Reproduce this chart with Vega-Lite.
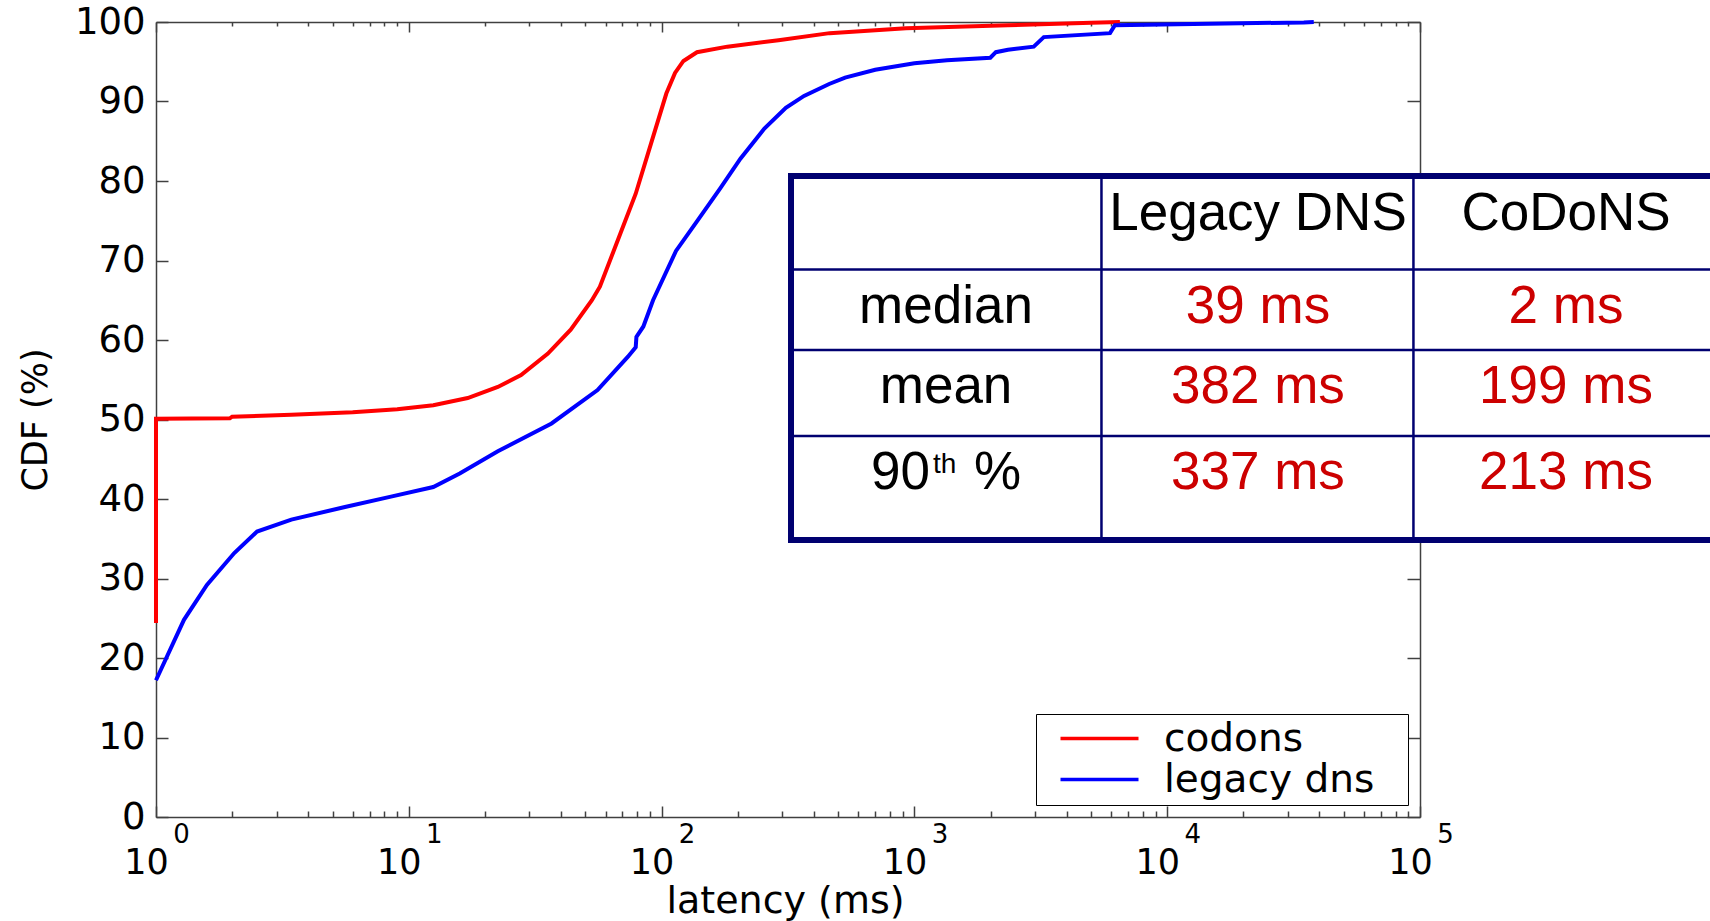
{
  "$schema": "https://vega.github.io/schema/vega-lite/v6.json",
  "width": 1264,
  "height": 795,
  "autosize": {"type": "none"},
  "padding": {"left": 156, "top": 22, "right": 290, "bottom": 104},
  "background": "white",
  "config": {
    "view": {"stroke": null},
    "axis": {"grid": false, "domainColor": "#404040", "tickColor": "#404040", "domainWidth": 1.5, "tickWidth": 1.5, "labelFont": "DejaVu Sans", "titleFont": "DejaVu Sans", "labelColor": "black", "titleColor": "black", "titleFontWeight": "normal", "labelFlush": false, "labelOverlap": false}
  },
  "datasets": {
    "curves": [
      {"series": "codons", "latency": 1, "cdf": 24.4},
      {"series": "codons", "latency": 1, "cdf": 50.1},
      {"series": "codons", "latency": 1.96, "cdf": 50.15},
      {"series": "codons", "latency": 2.0, "cdf": 50.35},
      {"series": "codons", "latency": 3.43, "cdf": 50.6},
      {"series": "codons", "latency": 6.0, "cdf": 50.9},
      {"series": "codons", "latency": 9.0, "cdf": 51.3},
      {"series": "codons", "latency": 12.5, "cdf": 51.8},
      {"series": "codons", "latency": 17.1, "cdf": 52.7},
      {"series": "codons", "latency": 22.5, "cdf": 54.1},
      {"series": "codons", "latency": 27.8, "cdf": 55.6},
      {"series": "codons", "latency": 35.5, "cdf": 58.3},
      {"series": "codons", "latency": 43.7, "cdf": 61.3},
      {"series": "codons", "latency": 53, "cdf": 65.0},
      {"series": "codons", "latency": 57, "cdf": 66.7},
      {"series": "codons", "latency": 68.7, "cdf": 73.4},
      {"series": "codons", "latency": 79, "cdf": 78.4},
      {"series": "codons", "latency": 90.8, "cdf": 84.7},
      {"series": "codons", "latency": 104.4, "cdf": 91.0},
      {"series": "codons", "latency": 113, "cdf": 93.6},
      {"series": "codons", "latency": 122, "cdf": 95.1},
      {"series": "codons", "latency": 138, "cdf": 96.2},
      {"series": "codons", "latency": 182, "cdf": 96.9},
      {"series": "codons", "latency": 290, "cdf": 97.7},
      {"series": "codons", "latency": 462, "cdf": 98.6},
      {"series": "codons", "latency": 927, "cdf": 99.2},
      {"series": "codons", "latency": 2344, "cdf": 99.6},
      {"series": "codons", "latency": 5000, "cdf": 99.9},
      {"series": "codons", "latency": 6500, "cdf": 100},
      {"series": "legacy dns", "latency": 1, "cdf": 17.2},
      {"series": "legacy dns", "latency": 1.29, "cdf": 24.8},
      {"series": "legacy dns", "latency": 1.59, "cdf": 29.2},
      {"series": "legacy dns", "latency": 2.04, "cdf": 33.2},
      {"series": "legacy dns", "latency": 2.51, "cdf": 35.9},
      {"series": "legacy dns", "latency": 3.43, "cdf": 37.4},
      {"series": "legacy dns", "latency": 5.59, "cdf": 39.0},
      {"series": "legacy dns", "latency": 8.5, "cdf": 40.3},
      {"series": "legacy dns", "latency": 12.5, "cdf": 41.5},
      {"series": "legacy dns", "latency": 15.9, "cdf": 43.2},
      {"series": "legacy dns", "latency": 22.5, "cdf": 46.0},
      {"series": "legacy dns", "latency": 36.7, "cdf": 49.5},
      {"series": "legacy dns", "latency": 55.8, "cdf": 53.7},
      {"series": "legacy dns", "latency": 73.6, "cdf": 57.9},
      {"series": "legacy dns", "latency": 79, "cdf": 59.1},
      {"series": "legacy dns", "latency": 79.5, "cdf": 60.4},
      {"series": "legacy dns", "latency": 84.7, "cdf": 61.7},
      {"series": "legacy dns", "latency": 92.5, "cdf": 65.0},
      {"series": "legacy dns", "latency": 114, "cdf": 71.2},
      {"series": "legacy dns", "latency": 140, "cdf": 75.2},
      {"series": "legacy dns", "latency": 170, "cdf": 79.0},
      {"series": "legacy dns", "latency": 205, "cdf": 82.8},
      {"series": "legacy dns", "latency": 255, "cdf": 86.6},
      {"series": "legacy dns", "latency": 310, "cdf": 89.2},
      {"series": "legacy dns", "latency": 366, "cdf": 90.7},
      {"series": "legacy dns", "latency": 460, "cdf": 92.2},
      {"series": "legacy dns", "latency": 532, "cdf": 93.0},
      {"series": "legacy dns", "latency": 700, "cdf": 94.0},
      {"series": "legacy dns", "latency": 1000, "cdf": 94.8},
      {"series": "legacy dns", "latency": 1345, "cdf": 95.2},
      {"series": "legacy dns", "latency": 1997, "cdf": 95.5},
      {"series": "legacy dns", "latency": 2100, "cdf": 96.2},
      {"series": "legacy dns", "latency": 2345, "cdf": 96.5},
      {"series": "legacy dns", "latency": 2965, "cdf": 96.9},
      {"series": "legacy dns", "latency": 3250, "cdf": 98.1},
      {"series": "legacy dns", "latency": 5940, "cdf": 98.6},
      {"series": "legacy dns", "latency": 6210, "cdf": 99.6},
      {"series": "legacy dns", "latency": 34700, "cdf": 99.95},
      {"series": "legacy dns", "latency": 38000, "cdf": 100}
    ],
    "table_box": [
      {"x1": 325, "x2": 2500000, "y1": 34.84, "y2": 80.63}
    ],
    "table_rules": [
      {"x1": 325, "x2": 2500000, "y1": 68.87, "y2": 68.87, "weight": "inner"},
      {"x1": 325, "x2": 2500000, "y1": 58.74, "y2": 58.74, "weight": "inner"},
      {"x1": 325, "x2": 2500000, "y1": 47.92, "y2": 47.92, "weight": "inner"},
      {"x1": 5495, "x2": 5495, "y1": 34.84, "y2": 80.63, "weight": "inner"},
      {"x1": 94200, "x2": 94200, "y1": 34.84, "y2": 80.63, "weight": "inner"},
      {"x1": 325, "x2": 2500000, "y1": 80.63, "y2": 80.63, "weight": "outer"},
      {"x1": 325, "x2": 2500000, "y1": 34.84, "y2": 34.84, "weight": "outer"},
      {"x1": 325, "x2": 325, "y1": 34.84, "y2": 80.63, "weight": "outer"}
    ],
    "table_text": [
      {"lat": 22860, "pct": 73.84, "text": "Legacy DNS", "role": "header"},
      {"lat": 378000, "pct": 73.84, "text": "CoDoNS", "role": "header"},
      {"lat": 1334, "pct": 62.14, "text": "median", "role": "label"},
      {"lat": 1334, "pct": 52.08, "text": "mean", "role": "label"},
      {"lat": 1334, "pct": 41.26, "text": "90\u00a0\u00a0\u00a0%", "role": "label"},
      {"lat": 22860, "pct": 62.14, "text": "39 ms", "role": "value"},
      {"lat": 22860, "pct": 52.08, "text": "382 ms", "role": "value"},
      {"lat": 22860, "pct": 41.26, "text": "337 ms", "role": "value"},
      {"lat": 378000, "pct": 62.14, "text": "2 ms", "role": "value"},
      {"lat": 378000, "pct": 52.08, "text": "199 ms", "role": "value"},
      {"lat": 378000, "pct": 41.26, "text": "213 ms", "role": "value"},
      {"lat": 1185, "pct": 43.27, "text": "th", "role": "sup"}
    ]
  },
  "layer": [
    {
      "data": {"name": "curves"},
      "mark": {"type": "line", "strokeWidth": 4, "interpolate": "linear"},
      "encoding": {
        "x": {"field": "latency", "type": "quantitative",
          "scale": {"type": "log", "domain": [1, 100000], "nice": false},
          "axis": {"orient": "bottom", "values": [1, 10, 100, 1000, 10000, 100000], "labelExpr": "'10'", "ticks": false, "domain": true, "labelFontSize": 35, "labelPadding": 28, "labelOffset": -10, "title": "latency (ms)", "titleFontSize": 38, "titleX": 629, "titleY": 95, "titleBaseline": "alphabetic"}},
        "y": {"field": "cdf", "type": "quantitative",
          "scale": {"domain": [0, 100], "nice": false, "zero": false},
          "axis": {"orient": "left", "values": [0, 10, 20, 30, 40, 50, 60, 70, 80, 90, 100], "ticks": false, "domain": true, "labelFontSize": 37, "labelPadding": 11, "title": "CDF (%)", "titleFontSize": 35, "titleX": -110, "titleY": 397.5, "titleAngle": -90, "titleBaseline": "alphabetic"}},
        "color": {"field": "series", "type": "nominal",
          "scale": {"domain": ["codons", "legacy dns"], "range": ["#ff0000", "#0000ff"]},
          "legend": {"title": null, "orient": "bottom-right", "offset": 12, "strokeColor": "black", "fillColor": "white", "padding": 5, "symbolType": "M0,0H7.8", "symbolSize": 400, "symbolStrokeWidth": 3.5, "labelFont": "DejaVu Sans", "labelFontSize": 39, "labelColor": "black", "labelOffset": 84, "labelExpr": "datum.label + '\u2800'", "rowPadding": 1, "cornerRadius": 0, "labelLimit": 400}},
        "order": {"field": "cdf", "type": "quantitative"}
      }
    },
    {
      "data": {"name": "table_box"},
      "mark": {"type": "rect", "fill": "white"},
      "encoding": {
        "x": {"field": "x1", "type": "quantitative", "scale": {"type": "log", "domain": [1, 100000], "nice": false},
          "axis": {"orient": "bottom", "values": [1, 10, 100, 1000, 10000, 100000], "labelExpr": "'' + round(log(datum.value) / LN10)", "ticks": false, "domain": false, "labelFontSize": 26, "labelPadding": 4, "labelOffset": 25, "title": null}},
        "x2": {"field": "x2"},
        "y": {"field": "y1", "type": "quantitative", "scale": {"domain": [0, 100], "nice": false, "zero": false},
          "axis": {"orient": "left", "values": [0, 10, 20, 30, 40, 50, 60, 70, 80, 90, 100], "labels": false, "domain": false, "ticks": true, "tickSize": -12, "title": null}},
        "y2": {"field": "y2"}
      }
    },
    {
      "data": {"name": "table_rules"},
      "transform": [{"filter": "datum.weight === 'inner'"}],
      "mark": {"type": "rule", "stroke": "#000070", "strokeWidth": 2.5},
      "encoding": {
        "x": {"field": "x1", "type": "quantitative", "scale": {"type": "log", "domain": [1, 100000], "nice": false},
          "axis": {"orient": "bottom", "values": [1, 10, 100, 1000, 10000, 100000], "labels": false, "domain": false, "ticks": true, "tickSize": -11, "title": null}},
        "x2": {"field": "x2"},
        "y": {"field": "y1", "type": "quantitative", "scale": {"domain": [0, 100], "nice": false, "zero": false},
          "axis": {"orient": "right", "values": [0, 10, 20, 30, 40, 50, 60, 70, 80, 90, 100], "labels": false, "domain": true, "ticks": true, "tickSize": -13, "title": null}},
        "y2": {"field": "y2"}
      }
    },
    {
      "data": {"name": "table_rules"},
      "transform": [{"filter": "datum.weight === 'outer'"}],
      "mark": {"type": "rule", "stroke": "#000070", "strokeWidth": 6, "strokeCap": "square"},
      "encoding": {
        "x": {"field": "x1", "type": "quantitative", "scale": {"type": "log", "domain": [1, 100000], "nice": false},
          "axis": {"orient": "bottom", "values": [2, 3, 4, 5, 6, 7, 8, 9, 20, 30, 40, 50, 60, 70, 80, 90, 200, 300, 400, 500, 600, 700, 800, 900, 2000, 3000, 4000, 5000, 6000, 7000, 8000, 9000, 20000, 30000, 40000, 50000, 60000, 70000, 80000, 90000], "labels": false, "domain": false, "ticks": true, "tickSize": -6, "title": null}},
        "x2": {"field": "x2"},
        "y": {"field": "y1", "type": "quantitative", "scale": {"domain": [0, 100], "nice": false, "zero": false}, "axis": null},
        "y2": {"field": "y2"}
      }
    },
    {
      "data": {"name": "table_text"},
      "transform": [{"filter": "datum.role === 'header' || datum.role === 'label'"}],
      "mark": {"type": "text", "font": "Liberation Sans", "fontSize": 53, "fill": "black", "align": "center", "baseline": "alphabetic"},
      "encoding": {
        "x": {"field": "lat", "type": "quantitative", "scale": {"type": "log", "domain": [1, 100000], "nice": false},
          "axis": {"orient": "top", "values": [1, 10, 100, 1000, 10000, 100000], "labels": false, "domain": true, "ticks": true, "tickSize": -10, "title": null}},
        "y": {"field": "pct", "type": "quantitative", "scale": {"domain": [0, 100], "nice": false, "zero": false}, "axis": null},
        "text": {"field": "text"}
      }
    },
    {
      "data": {"name": "table_text"},
      "transform": [{"filter": "datum.role === 'value'"}],
      "mark": {"type": "text", "font": "Liberation Sans", "fontSize": 53, "fill": "#cc0000", "align": "center", "baseline": "alphabetic"},
      "encoding": {
        "x": {"field": "lat", "type": "quantitative", "scale": {"type": "log", "domain": [1, 100000], "nice": false},
          "axis": {"orient": "top", "values": [2, 3, 4, 5, 6, 7, 8, 9, 20, 30, 40, 50, 60, 70, 80, 90, 200, 300, 400, 500, 600, 700, 800, 900, 2000, 3000, 4000, 5000, 6000, 7000, 8000, 9000, 20000, 30000, 40000, 50000, 60000, 70000, 80000, 90000], "labels": false, "domain": false, "ticks": true, "tickSize": -4, "title": null}},
        "y": {"field": "pct", "type": "quantitative", "scale": {"domain": [0, 100], "nice": false, "zero": false}, "axis": null},
        "text": {"field": "text"}
      }
    },
    {
      "data": {"name": "table_text"},
      "transform": [{"filter": "datum.role === 'sup'"}],
      "mark": {"type": "text", "font": "Liberation Sans", "fontSize": 28, "fill": "black", "align": "left", "baseline": "alphabetic"},
      "encoding": {
        "x": {"field": "lat", "type": "quantitative", "scale": {"type": "log", "domain": [1, 100000], "nice": false}, "axis": null},
        "y": {"field": "pct", "type": "quantitative", "scale": {"domain": [0, 100], "nice": false, "zero": false}, "axis": null},
        "text": {"field": "text"}
      }
    }
  ],
  "resolve": {"axis": {"x": "independent", "y": "independent"}}
}
